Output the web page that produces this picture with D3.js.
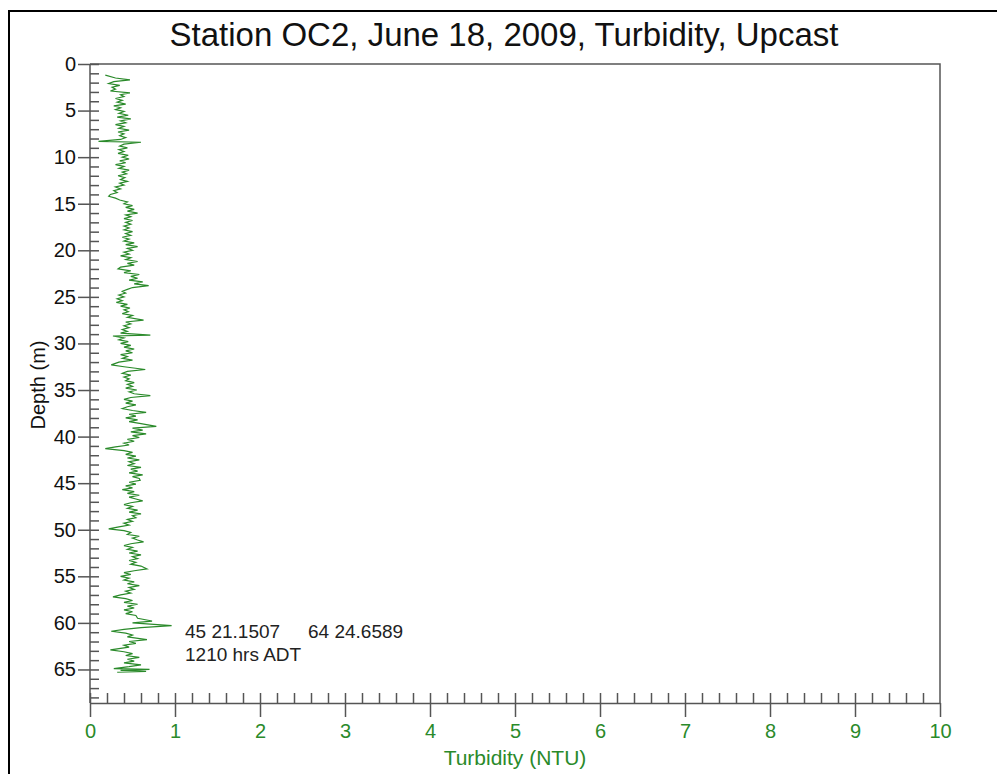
<!DOCTYPE html>
<meta charset="utf-8">
<style>
    body { margin: 0; background: #fff; }
    text { font-family: "Liberation Sans", Arial, sans-serif; }
    .axis path, .axis line { stroke: #555; stroke-width: 1.5px; }
</style>
<svg width="997" height="774"></svg>
<script src="https://d3js.org/d3.v7.min.js"></script>
<script>

    var title = "Station OC2, June 18, 2009, Turbidity, Upcast";
    var xTicks = [0, 1, 2, 3, 4, 5, 6, 7, 8, 9, 10];
    var yTicks = [0, 5, 10, 15, 20, 25, 30, 35, 40, 45, 50, 55, 60, 65];
    var note = ["45 21.1507", "64 24.6589", "1210 hrs ADT"];

    // depth (m), turbidity (NTU)
    var depth = [1.2, 1.5, 1.7, 1.9, 2.1, 2.3, 2.5, 2.7, 2.9, 3.1, 3.3, 3.5, 3.7, 3.9, 4.1, 4.3, 4.5, 4.7, 4.9,
        5.1, 5.3, 5.5, 5.7, 5.9, 6.1, 6.3, 6.5, 6.7, 6.9, 7.1, 7.3, 7.5, 7.7, 7.9, 8.1, 8.3, 8.4, 8.6, 8.8,
        9.0, 9.2, 9.4, 9.6, 9.8, 10.0, 10.2, 10.4, 10.6, 10.8, 11.0, 11.2, 11.4, 11.6, 11.8, 12.0, 12.2, 12.4,
        12.6, 12.8, 13.0, 13.2, 13.4, 13.6, 13.8, 14.0, 14.2, 14.4, 14.6, 14.8, 15.0, 15.2, 15.4, 15.6, 15.8,
        16.0, 16.2, 16.4, 16.6, 16.8, 17.0, 17.2, 17.4, 17.6, 17.8, 18.0, 18.2, 18.4, 18.6, 18.8, 19.0, 19.2,
        19.4, 19.6, 19.8, 20.0, 20.2, 20.4, 20.6, 20.8, 21.0, 21.2, 21.4, 21.6, 21.8, 22.0, 22.2, 22.4, 22.6,
        22.8, 23.0, 23.2, 23.4, 23.6, 23.8, 24.0, 24.2, 24.4, 24.6, 24.8, 25.0, 25.2, 25.4, 25.6, 25.8, 26.0,
        26.2, 26.4, 26.6, 26.8, 27.0, 27.2, 27.5, 27.7, 27.9, 28.1, 28.3, 28.5, 28.7, 28.9, 29.1, 29.2, 29.4,
        29.6, 29.8, 30.0, 30.2, 30.4, 30.6, 30.8, 31.0, 31.2, 31.4, 31.6, 31.8, 32.0, 32.3, 32.5, 32.8, 33.0,
        33.2, 33.4, 33.6, 33.8, 34.0, 34.2, 34.4, 34.6, 34.8, 35.0, 35.2, 35.4, 35.6, 35.8, 36.0, 36.2, 36.4,
        36.6, 36.8, 37.0, 37.2, 37.4, 37.6, 37.8, 38.0, 38.2, 38.4, 38.6, 38.9, 39.1, 39.3, 39.5, 39.7, 39.9,
        40.1, 40.3, 40.5, 40.7, 40.9, 41.1, 41.3, 41.5, 41.7, 41.9, 42.1, 42.3, 42.5, 42.7, 42.9, 43.1, 43.3,
        43.5, 43.7, 43.9, 44.1, 44.3, 44.5, 44.7, 44.9, 45.1, 45.3, 45.5, 45.7, 45.9, 46.1, 46.3, 46.5, 46.7,
        46.9, 47.1, 47.3, 47.5, 47.7, 47.9, 48.1, 48.3, 48.5, 48.7, 48.9, 49.1, 49.3, 49.5, 49.7, 49.9, 50.1,
        50.3, 50.5, 50.7, 50.9, 51.1, 51.3, 51.5, 51.7, 51.9, 52.1, 52.3, 52.5, 52.7, 52.9, 53.1, 53.3, 53.5,
        53.7, 53.9, 54.2, 54.4, 54.6, 54.8, 55.0, 55.2, 55.4, 55.6, 55.8, 56.0, 56.2, 56.4, 56.6, 56.8, 57.0,
        57.2, 57.4, 57.6, 57.8, 58.0, 58.2, 58.4, 58.6, 58.8, 59.0, 59.2, 59.5, 59.8, 60.0, 60.3, 60.5, 60.7,
        60.9, 61.1, 61.3, 61.5, 61.8, 62.0, 62.2, 62.4, 62.6, 62.9, 63.1, 63.3, 63.5, 63.7, 63.9, 64.1, 64.3,
        64.5, 64.7, 64.9, 65.0, 65.1, 65.2, 65.3];

    var turbidity = [0.18, 0.30, 0.47, 0.28, 0.22, 0.35, 0.26, 0.30, 0.24, 0.47, 0.36, 0.40, 0.30, 0.38, 0.32, 0.42, 0.28, 0.36, 0.30,
        0.40, 0.34, 0.45, 0.32, 0.48, 0.36, 0.42, 0.30, 0.40, 0.34, 0.46, 0.33, 0.40, 0.35, 0.42, 0.36, 0.10, 0.60, 0.40, 0.35,
        0.44, 0.34, 0.40, 0.33, 0.45, 0.38, 0.46, 0.35, 0.42, 0.30, 0.40, 0.34, 0.46, 0.38, 0.43, 0.33, 0.41, 0.36,
        0.44, 0.35, 0.40, 0.30, 0.36, 0.28, 0.32, 0.24, 0.22, 0.30, 0.35, 0.44, 0.40, 0.50, 0.42, 0.52, 0.44,
        0.56, 0.42, 0.48, 0.40, 0.50, 0.42, 0.48, 0.40, 0.46, 0.40, 0.50, 0.42, 0.48, 0.38, 0.46, 0.40, 0.52,
        0.42, 0.56, 0.44, 0.50, 0.40, 0.46, 0.36, 0.48, 0.42, 0.56, 0.44, 0.52, 0.36, 0.33, 0.48, 0.40, 0.58,
        0.48, 0.56, 0.46, 0.62, 0.52, 0.69, 0.50, 0.44, 0.38, 0.42, 0.34, 0.40, 0.32, 0.38, 0.31, 0.44, 0.36,
        0.47, 0.40, 0.45, 0.38, 0.50, 0.44, 0.63, 0.42, 0.48, 0.40, 0.46, 0.38, 0.44, 0.36, 0.71, 0.27, 0.40,
        0.34, 0.45, 0.36, 0.48, 0.40, 0.52, 0.42, 0.50, 0.36, 0.44, 0.38, 0.50, 0.34, 0.25, 0.40, 0.65, 0.44,
        0.38, 0.48, 0.40, 0.46, 0.42, 0.52, 0.44, 0.50, 0.42, 0.55, 0.46, 0.52, 0.71, 0.48, 0.40, 0.50, 0.42,
        0.54, 0.44, 0.38, 0.50, 0.66, 0.46, 0.54, 0.42, 0.56, 0.46, 0.60, 0.78, 0.50, 0.62, 0.48, 0.66, 0.50,
        0.58, 0.44, 0.52, 0.40, 0.46, 0.30, 0.18, 0.40, 0.50, 0.42, 0.54, 0.44, 0.58, 0.46, 0.52, 0.44, 0.60,
        0.48, 0.56, 0.46, 0.62, 0.50, 0.58, 0.59, 0.46, 0.54, 0.42, 0.50, 0.38, 0.52, 0.44, 0.58, 0.46, 0.54,
        0.62, 0.48, 0.40, 0.50, 0.44, 0.56, 0.46, 0.60, 0.50, 0.54, 0.44, 0.50, 0.40, 0.46, 0.34, 0.22, 0.40,
        0.48, 0.44, 0.58, 0.50, 0.56, 0.63, 0.48, 0.40, 0.50, 0.44, 0.56, 0.46, 0.60, 0.50, 0.56, 0.46, 0.54,
        0.48, 0.60, 0.67, 0.52, 0.40, 0.48, 0.36, 0.46, 0.40, 0.52, 0.44, 0.58, 0.46, 0.52, 0.42, 0.48, 0.36,
        0.27, 0.42, 0.50, 0.40, 0.56, 0.44, 0.52, 0.40, 0.50, 0.42, 0.54, 0.56, 0.73, 0.50, 0.96, 0.60, 0.40,
        0.25, 0.42, 0.50, 0.44, 0.67, 0.46, 0.54, 0.40, 0.46, 0.24, 0.40, 0.50, 0.42, 0.58, 0.44, 0.52, 0.40,
        0.60, 0.46, 0.28, 0.70, 0.36, 0.66, 0.32];

    var data = depth.map(function (d, i) { return { d: d, v: turbidity[i] }; });

    var svg = d3.select("svg");
    var green = "#2a8a2a";
    var plotLeft = 90, plotRight = 940, plotTop = 64, plotBottom = 703;

    // outer frame (left and top edges only visible)
    svg.append("path")
        .attr("d", "M9,774V11H997")
        .attr("fill", "none")
        .attr("stroke", "#000")
        .attr("stroke-width", 2);

    var x = d3.scaleLinear().domain([0, 10]).range([plotLeft, plotRight]);
    var y = d3.scaleLinear().domain([0, 68.6]).range([plotTop, plotBottom]);

    svg.append("text")
        .attr("x", 504)
        .attr("y", 46)
        .attr("text-anchor", "middle")
        .attr("font-size", 33)
        .attr("fill", "#111")
        .text(title);

    // top and right frame lines of the plot
    svg.append("path")
        .attr("d", "M" + plotLeft + "," + plotTop + "H" + plotRight + "V" + plotBottom)
        .attr("fill", "none")
        .attr("stroke", "#555")
        .attr("stroke-width", 1.5);

    // y axis: minor ticks inside, major ticks crossing
    var yMinor = svg.append("g").attr("class", "axis").attr("transform", "translate(" + plotLeft + ",0)")
        .call(d3.axisRight(y).tickValues(d3.range(0, 69, 1)).tickSize(9).tickFormat("").tickSizeOuter(0));
    yMinor.select(".domain").remove();
    var yMajor = svg.append("g").attr("class", "axis").attr("transform", "translate(" + plotLeft + ",0)")
        .call(d3.axisLeft(y).tickValues(yTicks).tickSize(12).tickSizeOuter(0).tickPadding(2));
    yMajor.selectAll("text").attr("font-size", 20).attr("fill", "#111");
    yMajor.select(".domain").attr("d", "M0," + plotTop + "V" + plotBottom);

    // x axis: minor ticks inside, major ticks crossing
    var xMinor = svg.append("g").attr("class", "axis").attr("transform", "translate(0," + plotBottom + ")")
        .call(d3.axisTop(x).tickValues(d3.range(0, 50).map(function (i) { return i * 0.2; })).tickSize(10).tickFormat("").tickSizeOuter(0));
    xMinor.select(".domain").remove();
    var xMajor = svg.append("g").attr("class", "axis").attr("transform", "translate(0," + plotBottom + ")")
        .call(d3.axisBottom(x).tickValues(xTicks).tickSize(14).tickSizeOuter(0).tickPadding(7));
    xMajor.selectAll("text").attr("font-size", 20).attr("fill", green);

    svg.append("text")
        .attr("x", 515)
        .attr("y", 765)
        .attr("text-anchor", "middle")
        .attr("font-size", 21)
        .attr("fill", green)
        .text("Turbidity (NTU)");

    svg.append("text")
        .attr("transform", "translate(45,385) rotate(-90)")
        .attr("text-anchor", "middle")
        .attr("font-size", 20)
        .attr("fill", "#111")
        .text("Depth (m)");

    var line = d3.line()
        .x(function (d) { return x(d.v); })
        .y(function (d) { return y(d.d); });

    svg.append("path")
        .datum(data)
        .attr("fill", "none")
        .attr("stroke", green)
        .attr("stroke-width", 1.2)
        .attr("d", line);

    // station position / time note
    svg.append("text").attr("x", 185).attr("y", 638).attr("font-size", 19).attr("fill", "#222").text(note[0]);
    svg.append("text").attr("x", 308).attr("y", 638).attr("font-size", 19).attr("fill", "#222").text(note[1]);
    svg.append("text").attr("x", 185).attr("y", 661).attr("font-size", 19).attr("fill", "#222").text(note[2]);

</script>
